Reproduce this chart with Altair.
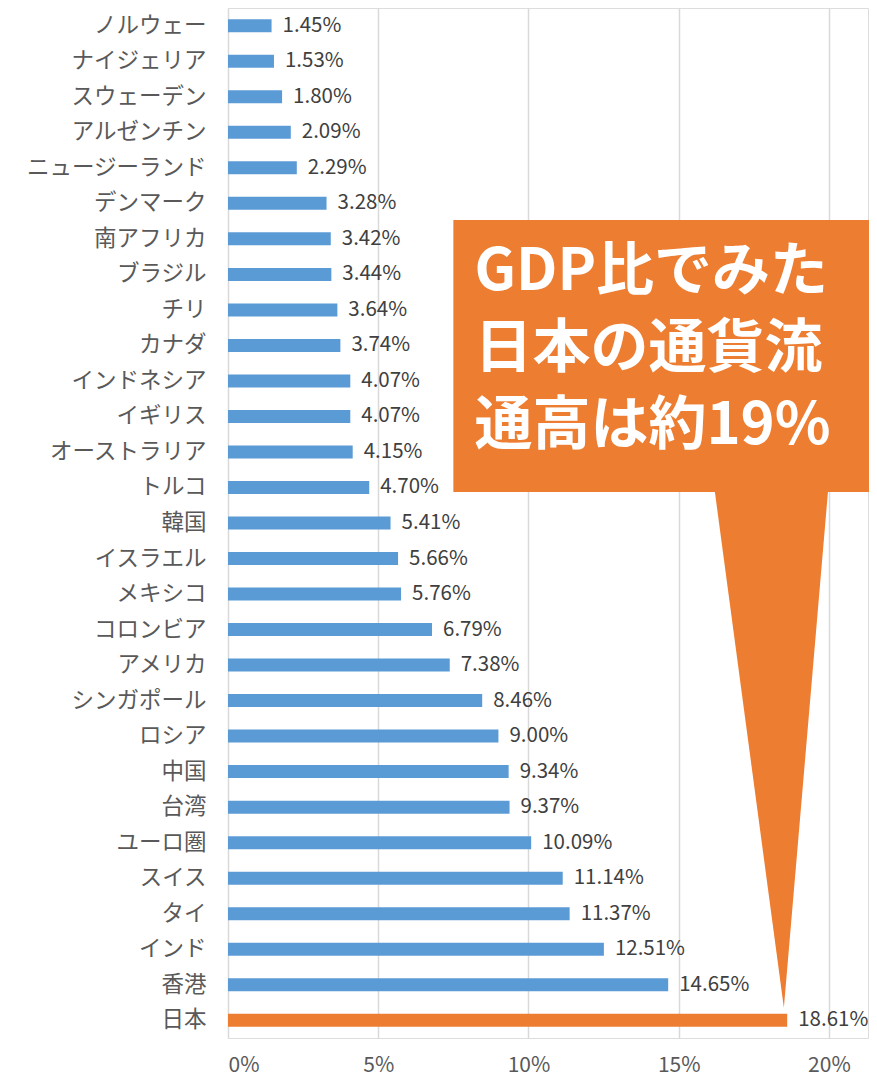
import altair as alt
import pandas as pd

countries = ["ノルウェー", "ナイジェリア", "スウェーデン", "アルゼンチン", "ニュージーランド",
             "デンマーク", "南アフリカ", "ブラジル", "チリ", "カナダ", "インドネシア", "イギリス",
             "オーストラリア", "トルコ", "韓国", "イスラエル", "メキシコ", "コロンビア", "アメリカ",
             "シンガポール", "ロシア", "中国", "台湾", "ユーロ圏", "スイス", "タイ", "インド",
             "香港", "日本"]
values = [1.45, 1.53, 1.80, 2.09, 2.29, 3.28, 3.42, 3.44, 3.64, 3.74, 4.07, 4.07, 4.15,
          4.70, 5.41, 5.66, 5.76, 6.79, 7.38, 8.46, 9.00, 9.34, 9.37, 10.09, 11.14, 11.37,
          12.51, 14.65, 18.61]
highlight = ["日本"]
x_ticks = [0, 5, 10, 15, 20]

callout_lines = ["GDP比でみた", "日本の通貨流", "通高は約19%"]
callout_line_rows = [7.45, 9.62, 11.8]
box = {"x": [7.5], "x2": [21.6], "y": [5.97], "y2": [13.63]}
pointer_y = [13.6, 28.15]
pointer_x = [16.2, 18.5]
pointer_x2 = [19.97, 18.5]

FONT = "Noto Sans CJK JP"
W, H = 640, 1030
XDOM = [0, 21.3]

df = pd.DataFrame({"country": countries, "value": values})
df["color"] = ["#ED7D31" if c in highlight else "#5B9BD5" for c in countries]

xscale = alt.Scale(domain=XDOM, nice=False, zero=True)
xaxis = alt.Axis(values=x_ticks, title=None, ticks=False, domain=False,
                 grid=True, gridColor="#d9d9d9", gridWidth=1.5,
                 labelExpr="datum.value + '%'", labelFont=FONT, labelFontSize=21,
                 labelColor="#595959", labelPadding=16)

base = alt.Chart(df).encode(
    y=alt.Y("country:N", sort=countries,
            scale=alt.Scale(paddingInner=0, paddingOuter=0),
            axis=alt.Axis(title=None, ticks=False, domain=False, labelFont=FONT,
                          labelFontSize=22.5, labelColor="#595959", labelPadding=22,
                          labelLimit=300)),
)

bars = base.mark_bar(size=13).encode(
    x=alt.X("value:Q", scale=xscale, axis=xaxis),
    color=alt.Color("color:N", scale=None),
)

labels = base.mark_text(align="left", baseline="middle", dx=11, font=FONT,
                        fontSize=20.5, color="#404040").transform_calculate(
    label="format(datum.value, '.2f') + '%'"
).encode(x=alt.X("value:Q", scale=xscale, axis=xaxis), text="label:N")

main = alt.layer(bars, labels)

yq = alt.Scale(domain=[29, 0], nice=False, zero=False)

box_df = pd.DataFrame(box)
box_mark = alt.Chart(box_df).mark_rect(color="#ED7D31", clip=False).encode(
    x=alt.X("x:Q", scale=xscale, axis=xaxis), x2="x2:Q",
    y=alt.Y("y:Q", scale=yq, axis=None), y2="y2:Q")

ptr_df = pd.DataFrame({"y": pointer_y, "x": pointer_x, "x2": pointer_x2})
ptr = alt.Chart(ptr_df).mark_area(orient="horizontal", color="#ED7D31").encode(
    y=alt.Y("y:Q", scale=yq, axis=None),
    x=alt.X("x:Q", scale=xscale, axis=xaxis), x2="x2:Q")

txt_df = pd.DataFrame({"t": callout_lines, "y": callout_line_rows, "x": [8.2] * 3})
txt = alt.Chart(txt_df).mark_text(align="left", baseline="middle", font=FONT,
                                  fontSize=58, fontWeight="bold", color="white").encode(
    x=alt.X("x:Q", scale=xscale, axis=xaxis),
    y=alt.Y("y:Q", scale=yq, axis=None), text="t:N")

callout = alt.layer(box_mark, ptr, txt)

chart = alt.layer(main, callout).resolve_scale(y="independent").properties(
    width=W, height=H,
    autosize=alt.AutoSizeParams(type="none"),
    padding={"left": 220, "top": 0, "right": 1, "bottom": 38},
).configure_view(strokeWidth=0, stroke="transparent").configure(background="white")

chart.save("out.html", embed_options={"renderer": "svg", "actions": False})
